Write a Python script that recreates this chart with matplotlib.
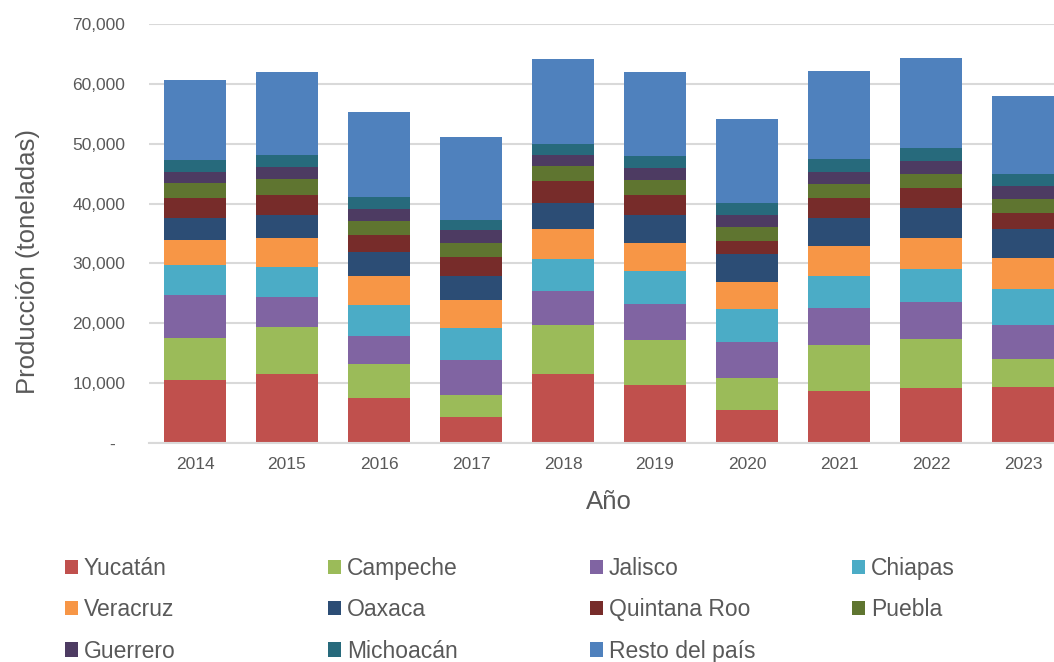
import matplotlib

matplotlib.use("Agg")
import matplotlib.pyplot as plt
import numpy as np
from matplotlib.patches import Patch

plt.rcParams["font.family"] = ["Liberation Sans", "DejaVu Sans"]

# datos (toneladas)
years = ["2014", "2015", "2016", "2017", "2018", "2019", "2020", "2021", "2022", "2023"]
yucatan = [10500, 11600, 7500, 4350, 11500, 9700, 5500, 8700, 9200, 9350]
campeche = [7000, 7700, 5700, 3650, 8200, 7500, 5350, 7700, 8200, 4700]
jalisco = [7200, 5100, 4700, 5850, 5700, 6000, 6000, 6200, 6200, 5700]
chiapas = [5000, 5000, 5200, 5350, 5350, 5500, 5500, 5350, 5500, 6000]
veracruz = [4200, 4850, 4850, 4700, 5000, 4700, 4500, 5000, 5200, 5200]
oaxaca = [3700, 3850, 4000, 4000, 4350, 4650, 4750, 4700, 5000, 4850]
quintana_roo = [3300, 3350, 2850, 3200, 3650, 3350, 2100, 3350, 3350, 2650]
puebla = [2500, 2650, 2350, 2350, 2500, 2500, 2350, 2350, 2350, 2350]
guerrero = [1850, 2000, 2000, 2150, 1850, 2000, 2000, 2000, 2150, 2150]
michoacan = [2000, 2000, 2000, 1650, 1850, 2000, 2000, 2150, 2150, 2000]
resto = [13350, 13850, 14200, 13850, 14200, 14050, 14050, 14700, 15050, 13050]

SERIES = [
    ("Yucatán", yucatan, "#C0504D"),
    ("Campeche", campeche, "#9BBB59"),
    ("Jalisco", jalisco, "#8064A2"),
    ("Chiapas", chiapas, "#4BACC6"),
    ("Veracruz", veracruz, "#F79646"),
    ("Oaxaca", oaxaca, "#2C4D75"),
    ("Quintana Roo", quintana_roo, "#772C2A"),
    ("Puebla", puebla, "#5F7530"),
    ("Guerrero", guerrero, "#4D3B62"),
    ("Michoacán", michoacan, "#276A7C"),
    ("Resto del país", resto, "#4F81BD"),
]

TXT = "#595959"
GRID = "#D9D9D9"
W, H = 1054, 662

fig = plt.figure(figsize=(W / 100, H / 100), dpi=100)
# el eje real termina en x=1069 px (la imagen original está recortada a la derecha)
ax = fig.add_axes([149 / W, (H - 443) / H, (1069 - 149) / W, (443 - 24) / H])

x = np.arange(len(years))
bottom = np.zeros(len(years))
for name, vals, color in SERIES:
    v = np.array(vals, dtype=float)
    ax.bar(x, v, width=0.674, bottom=bottom, color=color, label=name, zorder=2)
    bottom += v

ax.set_xlim(-0.5, len(years) - 0.5)
ax.set_ylim(0, 70000)
yt = np.arange(0, 70001, 10000)
ax.set_yticks(yt)
ax.set_yticklabels(["-  "] + [f"{t:,}" for t in yt[1:]])
ax.set_xticks(x)
ax.set_xticklabels(years)
ax.tick_params(axis="both", length=0, labelsize=12.5, labelcolor=TXT)
ax.tick_params(axis="y", pad=17)
ax.tick_params(axis="x", pad=10)
ax.grid(axis="y", color=GRID, linewidth=1.5, zorder=0)
ax.set_axisbelow(True)
for side in ["top", "right", "left"]:
    ax.spines[side].set_visible(False)
ax.spines["bottom"].set_color(GRID)
ax.spines["bottom"].set_linewidth(1.5)

ax.set_ylabel("Producción (toneladas)", fontsize=18.5, color=TXT)
ax.yaxis.set_label_coords(-0.119, 0.432)
ax.set_xlabel("Año", fontsize=18.5, color=TXT)
ax.xaxis.set_label_coords(0.5, -0.112)

# leyenda: 4 columnas con inicio uniforme, orden por filas como en el original
col_x = [65, 328, 590, 852]
for c in range(4):
    items = SERIES[c::4]
    handles = [Patch(facecolor=col, edgecolor="none", label=n) for n, _, col in items]
    leg = fig.legend(handles=handles, loc="upper left",
                     bbox_to_anchor=(col_x[c] / W, (H - 557) / H),
                     frameon=False, fontsize=16.5, handlelength=0.58, handleheight=0.58,
                     handletextpad=0.25, labelspacing=0.8, borderpad=0, borderaxespad=0)
    for t in leg.get_texts():
        t.set_color(TXT)

fig.savefig("out.png", dpi=100)
